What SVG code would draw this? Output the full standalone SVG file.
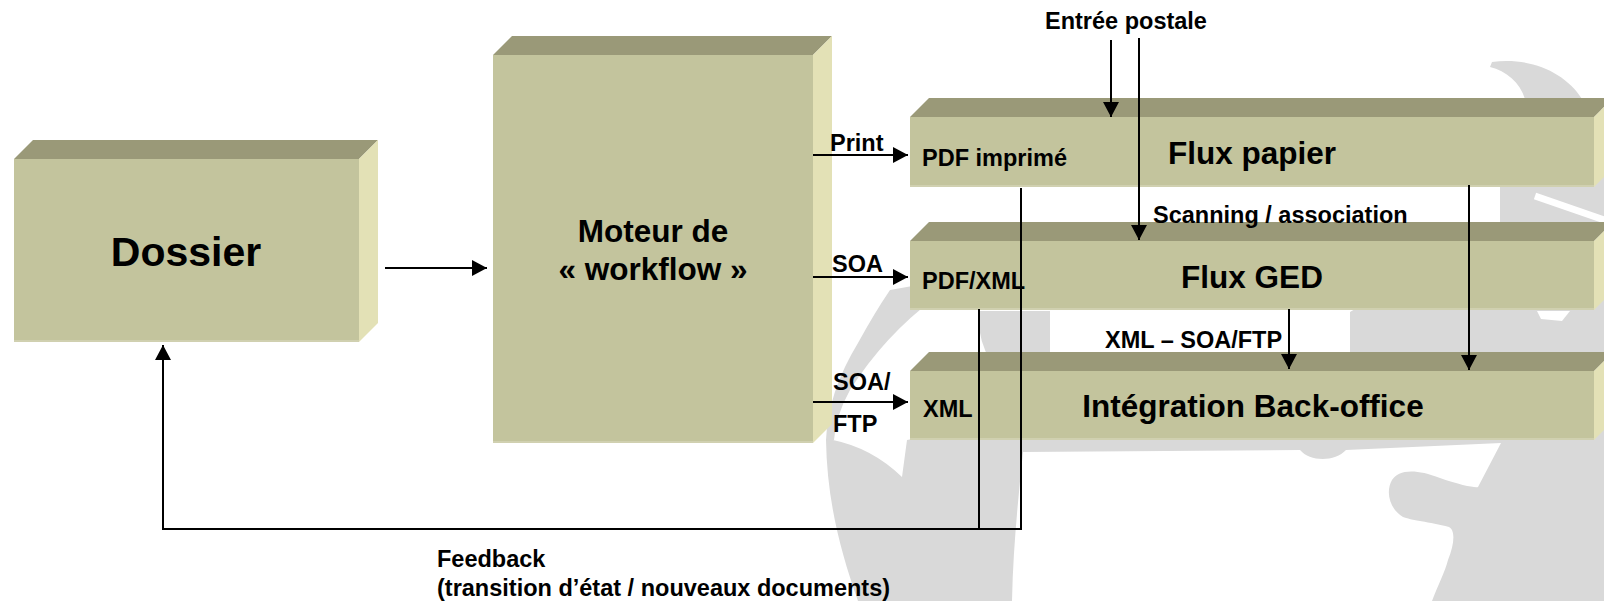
<svg xmlns="http://www.w3.org/2000/svg" width="1604" height="601" viewBox="0 0 1604 601">
<defs>
<style>
.front{fill:#C3C49D}
.top{fill:#9A9978}
.side{fill:#E3E1B6}
.edge{stroke:#D0D0B0;stroke-width:2;fill:none}
.wm{fill:#D9D9D9}
.t{font-family:"Liberation Sans",Arial,Helvetica,sans-serif;font-weight:bold;fill:#000}
.big{font-size:31.5px}
.small{font-size:23.5px}
.ln{stroke:#000;stroke-width:2;fill:none}
</style>
<marker id="ah" markerUnits="userSpaceOnUse" markerWidth="16" markerHeight="17" refX="15" refY="8" orient="auto">
<path d="M0,0 L15,8 L0,16 Z" fill="#000"/>
</marker>
</defs>
<rect width="1604" height="601" fill="#FFFFFF"/>

<g id="watermark">
<path class="wm" d="M858,601 C840,550 827,500 826,440 L833,440 Q872,448 902,477 L907,440 L1350,353 L1350,312 L1500,223 L1500,187 L1525,99 C1520,82 1506,71 1490,67 L1492,62 C1530,57 1565,72 1582,99 L1620,120 L1620,601 L1432,601 C1438,585 1445,572 1448,560 C1455,543 1455,530 1449,527 C1430,522 1410,520 1403,517 C1388,508 1386,490 1392,480 C1398,470 1415,468 1440,478 C1460,485 1475,488 1478,487 L1501,443 L1346,450 C1335,462 1310,462 1300,450 L1023,452 C1018,500 1013,550 1012,601 Z"/>
<path class="wm" d="M890,290 L935,282 L935,298 Q885,335 850,390 Q836,415 834,440 L826,440 Q828,392 858,343 Q875,312 890,290 Z"/>
<path class="wm" d="M980,311 L1050,311 L1050,360 L990,360 Q976,336 980,311 Z"/>
<path d="M1535,196 L1610,222" stroke="#FFFFFF" stroke-width="7" fill="none"/>
<path d="M1537,311 L1570,311 L1562,321 L1541,319 Z" fill="#FFFFFF"/>
</g>

<g id="node-dossier">
<polygon class="top" points="14,159 33,140 378,140 359,159"/>
<polygon class="side" points="359,159 378,140 378,323 359,342"/>
<rect class="front" x="14" y="159" width="345" height="183"/>
<path class="edge" d="M14,341 L359,341"/>
<text class="t" x="186" y="266" font-size="41" text-anchor="middle">Dossier</text>
</g>

<g id="node-moteur">
<polygon class="top" points="493,55 512,36 832,36 813,55"/>
<polygon class="side" points="813,55 832,36 832,424 813,443"/>
<rect class="front" x="493" y="55" width="320" height="388"/>
<path class="edge" d="M493,442 L813,442"/>
<text class="t big" x="653" y="241.5" text-anchor="middle" font-size="31">Moteur de</text>
<text class="t big" x="653" y="279.5" text-anchor="middle" font-size="31">« workflow »</text>
</g>

<g id="node-flux-papier">
<polygon class="top" points="910,117 929,98 1613,98 1594,117"/>
<polygon class="side" points="1594,117 1613,98 1613,168 1594,187"/>
<rect class="front" x="910" y="117" width="684" height="70"/>
<path class="edge" d="M910,186 L1594,186"/>
<text class="t big" x="1252" y="163.5" text-anchor="middle">Flux papier</text>
<text class="t small" x="922" y="165.7">PDF imprimé</text>
</g>

<g id="node-flux-ged">
<polygon class="top" points="910,241 929,222 1613,222 1594,241"/>
<polygon class="side" points="1594,241 1613,222 1613,291 1594,310"/>
<rect class="front" x="910" y="241" width="684" height="69"/>
<path class="edge" d="M910,309 L1594,309"/>
<text class="t big" x="1252" y="287.5" text-anchor="middle">Flux GED</text>
<text class="t small" x="922" y="289.3">PDF/XML</text>
</g>

<g id="node-integration">
<polygon class="top" points="910,371 929,352 1613,352 1594,371"/>
<polygon class="side" points="1594,371 1613,352 1613,421 1594,440"/>
<rect class="front" x="910" y="371" width="684" height="69"/>
<path class="edge" d="M910,439 L1594,439"/>
<text class="t big" x="1253" y="416.5" text-anchor="middle">Intégration Back-office</text>
<text class="t small" x="923" y="416.7">XML</text>
</g>

<g id="connectors">
<path class="ln" d="M385,268 L487,268" marker-end="url(#ah)"/>
<path class="ln" d="M813,155 L908,155" marker-end="url(#ah)"/>
<path class="ln" d="M813,277 L908,277" marker-end="url(#ah)"/>
<path class="ln" d="M813,402 L908,402" marker-end="url(#ah)"/>
<path class="ln" d="M1111,40 L1111,117" marker-end="url(#ah)"/>
<path class="ln" d="M1139,38 L1139,240" marker-end="url(#ah)"/>
<path class="ln" d="M1469,185 L1469,370" marker-end="url(#ah)"/>
<path class="ln" d="M1289,309 L1289,369" marker-end="url(#ah)"/>
<path class="ln" d="M1021,188 L1021,529 L163,529 L163,345" marker-end="url(#ah)"/>
<path class="ln" d="M979,309 L979,529"/>
</g>

<g id="labels">
<text class="t small" x="830" y="151">Print</text>
<text class="t small" x="832" y="271.7">SOA</text>
<text class="t small" x="833" y="390">SOA/</text>
<text class="t small" x="833" y="431.7">FTP</text>
<text class="t small" x="1045" y="29.3">Entrée postale</text>
<text class="t small" x="1153" y="222.7">Scanning / association</text>
<text class="t small" x="1105" y="348.3">XML – SOA/FTP</text>
<text class="t small" x="437" y="567">Feedback</text>
<text class="t small" x="437" y="596">(transition d’état / nouveaux documents)</text>
</g>
</svg>
